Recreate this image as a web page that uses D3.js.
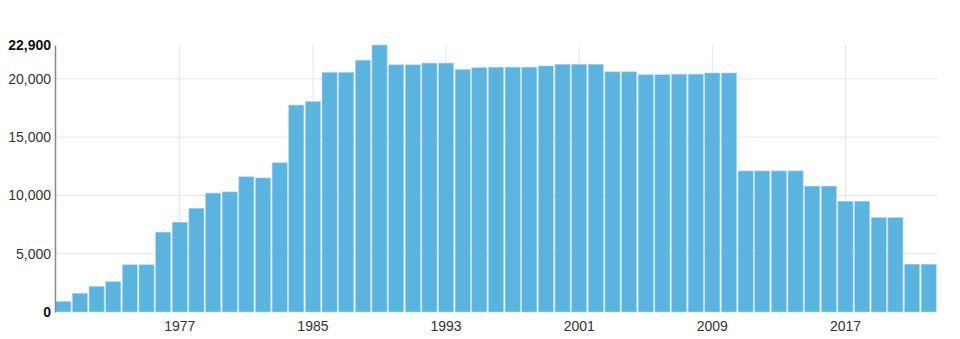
<!DOCTYPE html>
<html>
<head>
<meta charset="utf-8">
<script src="https://cdn.jsdelivr.net/npm/d3@7"></script>
<style>
  body { margin: 0; background: #fff; }
  .tick text { font-family: "Liberation Sans", Arial, sans-serif; font-size: 14px; fill: #333; }
  .grid line { stroke: #e6e6e6; }
</style>
</head>
<body>
<div id="chart"></div>
<script>
var svgWidth = 960;
var svgHeight = 339;

var margin = { top: 45, right: 23, bottom: 27, left: 55 };

var width = svgWidth - margin.left - margin.right;
var height = svgHeight - margin.top - margin.bottom;

// data
var years = d3.range(1970, 2023);
var values = [
  900, 1600, 2200, 2600, 4050, 4050, 6850, 7700, 8900, 10200,
  10300, 11600, 11500, 12800, 17750, 18050, 20550, 20550, 21600, 22900,
  21200, 21200, 21350, 21350, 20800, 20950, 21000, 21000, 21000, 21100,
  21250, 21250, 21250, 20600, 20600, 20350, 20350, 20400, 20400, 20500,
  20500, 12100, 12100, 12100, 12100, 10800, 10800, 9500, 9500, 8100,
  8100, 4100, 4100
];
var xTicks = [1977, 1985, 1993, 2001, 2009, 2017];
var yTicks = [0, 5000, 10000, 15000, 20000, 22900];
var yMax = 22900;

var data = years.map(function (y, i) { return { year: y, value: values[i] }; });

var svg = d3.select("#chart")
    .append("svg")
    .attr("width", svgWidth)
    .attr("height", svgHeight);

var chartGroup = svg.append("g")
    .attr("transform", `translate(${margin.left}, ${margin.top})`);

var xScale = d3.scaleBand()
    .domain(years)
    .range([0, width])
    .paddingInner(0.09)
    .paddingOuter(0.045);

var yScale = d3.scaleLinear()
    .domain([0, yMax])
    .range([height, 0]);

// grid lines
chartGroup.append("g")
    .attr("class", "grid")
    .selectAll("line.h")
    .data(yTicks.filter(d => d > 0 && d < yMax))
    .enter()
    .append("line")
    .attr("x1", 0)
    .attr("x2", width)
    .attr("y1", d => yScale(d))
    .attr("y2", d => yScale(d));

chartGroup.append("g")
    .attr("class", "grid")
    .selectAll("line.v")
    .data(xTicks)
    .enter()
    .append("line")
    .attr("x1", d => xScale(d) + xScale.bandwidth() / 2)
    .attr("x2", d => xScale(d) + xScale.bandwidth() / 2)
    .attr("y1", 0)
    .attr("y2", height);

// bars
chartGroup.selectAll("rect.bar")
    .data(data)
    .enter()
    .append("rect")
    .attr("class", "bar")
    .attr("x", d => xScale(d.year))
    .attr("y", d => yScale(d.value))
    .attr("width", xScale.bandwidth())
    .attr("height", d => height - yScale(d.value))
    .attr("fill", "#5bb4e0")
    .attr("stroke", "#a9d8f0")
    .attr("stroke-width", 0.6);

// axes
var bottomAxis = d3.axisBottom(xScale).tickValues(xTicks).tickSize(0).tickPadding(9);
var leftAxis = d3.axisLeft(yScale).tickValues(yTicks).tickSize(0).tickPadding(4)
    .tickFormat(d3.format(","));

var xAxisG = chartGroup.append("g")
    .attr("transform", `translate(0, ${height})`)
    .call(bottomAxis);
xAxisG.select(".domain").remove();

var yAxisG = chartGroup.append("g")
    .call(leftAxis);
yAxisG.select(".domain").attr("stroke", "#888").attr("stroke-width", 1.5);
yAxisG.selectAll(".tick text")
    .filter(d => d === 0 || d === yMax)
    .style("font-weight", "bold")
    .style("fill", "#111");
</script>
</body>
</html>
